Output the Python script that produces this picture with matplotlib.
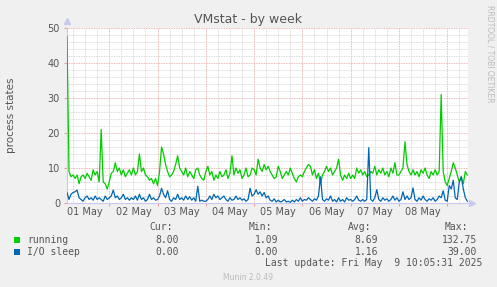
import numpy as np
import pandas as pd
import matplotlib
matplotlib.use("Agg")
import matplotlib.pyplot as plt
import matplotlib.dates as mdates
from matplotlib.patches import Rectangle
from matplotlib.ticker import MultipleLocator, FuncFormatter, NullFormatter

# hourly samples, 2025-05-01 03:00 .. 2025-05-09 10:00
times = pd.date_range("2025-05-01 03:00", "2025-05-09 10:00", freq="h")

running = [
    # May 1 (03..23)
    47.5, 9, 7.5, 8, 7, 8, 5.5, 7.5, 8, 7, 8.5, 7.5, 6.5, 9.5, 8, 9, 6, 21, 6, 5.5, 4,
    # May 2
    6, 8.5, 9, 11.5, 9, 10, 8, 9.5, 7.5, 8.5, 9.5, 8, 10, 8, 9, 14, 9, 10, 8, 7.5, 6.5, 7, 5.5, 7,
    # May 3
    5, 9, 16, 14, 11, 9, 7.5, 8, 9, 11, 13.5, 10, 9, 8, 10, 7.5, 9, 8, 7, 9.5, 10, 8, 7, 6.5,
    # May 4
    9, 10.5, 8, 9, 6.5, 8, 7, 9, 7.5, 8, 9.5, 7, 8.5, 13.5, 8, 10, 8.5, 9.5, 7, 8, 10, 7.5, 8, 10,
    # May 5
    9.5, 8, 12.5, 10, 9, 11, 9.5, 10.5, 9, 8, 7, 7.5, 10.5, 9, 7, 8, 9, 8, 10, 8.5, 7, 6, 7.5, 8,
    # May 6
    7.5, 9, 10, 11, 10.5, 8, 9.5, 7, 8.5, 5.5, 8, 9, 10.5, 9, 10, 8, 9, 10, 12.5, 8, 6.5, 8, 7, 8.5,
    # May 7
    7, 8, 7, 10, 8.5, 9.5, 8, 9, 7.5, 8, 9, 8.5, 10.5, 8, 9.5, 8.5, 10, 8, 9, 7.5, 10, 8.5, 11.5, 8,
    # May 8
    8, 9, 10, 17.5, 11, 9, 8, 9.5, 8, 9, 7.5, 9.5, 8.5, 10, 8, 7, 9, 8, 9.5, 8, 9, 31, 9, 6,
    # May 9 (00..10)
    5, 7, 9, 11.5, 10, 8, 6, 7.5, 5.5, 9, 8,
]

io_sleep = [
    # May 1 (03..23)
    3, 1, 2.5, 3, 3.2, 3.7, 1.5, 1, 0.5, 1.5, 2, 1, 1.5, 0.8, 2, 1, 1.5, 1, 0.5, 2, 1,
    # May 2
    1.5, 2, 3.7, 1.5, 2, 1, 1.5, 2.5, 1, 1.5, 0.8, 1.5, 1, 2, 0.8, 2.5, 1, 1.5, 0.5, 1, 2.5, 1, 1.5, 0.8,
    # May 3
    1, 2, 4.2, 2.5, 1.5, 3.5, 1, 0.5, 1.5, 1, 2.5, 1, 1.5, 0.8, 2, 1, 1.8, 0.8, 1.5, 0.5, 4.8, 0.5, 0.8, 0.5,
    # May 4
    0.5, 1, 2, 1, 2.5, 1.5, 2, 1, 1.5, 2, 1, 0.5, 1.5, 0.8, 1, 2, 1, 1.5, 0.8, 1.2, 0.5, 1, 4.2, 2,
    # May 5
    2.5, 3.8, 2.5, 3.2, 2, 3, 1.5, 2, 0.8, 0.5, 1.2, 0.3, 0.8, 0.3, 0.5, 1, 0.3, 0.5, 0.2, 0.8, 0.3, 1, 0.5, 1.5,
    # May 6
    0.5, 1, 0.8, 1.5, 1, 0.5, 1.2, 0.8, 2, 7.5, 1, 0.5, 1.2, 0.8, 2, 0.5, 1, 0.3, 1.5, 0.5, 1, 0.3, 1.5, 0.8,
    # May 7
    1, 0.5, 1, 2, 0.8, 0.5, 1, 0.5, 1, 15.8, 1, 0.5, 1.5, 3.8, 1, 0.5, 1.5, 0.8, 1.2, 0.5, 1, 2, 0.8, 1.5,
    # May 8
    0.5, 1, 3.2, 1, 2, 1, 1.5, 4.3, 1, 0.5, 1.5, 0.8, 2, 1, 0.5, 1.2, 0.8, 1.5, 0.5, 1, 2, 1.5, 3.5, 0.8,
    # May 9 (00..10)
    0.5, 5, 4, 6.5, 1.5, 1, 6, 7.5, 4, 1.5, 0.5,
]

legend_names = ["running", "I/O sleep"]
legend_colors = ["#00cc00", "#0066b3"]
cur_vals = ["8.00", "0.00"]
min_vals = ["1.09", "0.00"]
avg_vals = ["8.69", "1.16"]
max_vals = ["132.75", "39.00"]

W, H = 497, 287
fig = plt.figure(figsize=(W / 100, H / 100), dpi=100, facecolor="#f0f0f0")
ax = fig.add_axes([67 / W, 84 / H, 401 / W, 175 / H], facecolor="white")

ax.plot(times, running, color=legend_colors[0], lw=0.9, zorder=3)
ax.plot(times, io_sleep, color=legend_colors[1], lw=0.9, zorder=3)

ax.set_xlim(pd.Timestamp("2025-05-01 03:00"), pd.Timestamp("2025-05-09 10:20"))
ax.set_ylim(0, 50)

# y grid: minor every 2, major every 10
ax.yaxis.set_major_locator(MultipleLocator(10))
ax.yaxis.set_minor_locator(MultipleLocator(2))
# x grid: red at day boundaries, grey every 6 hours, labels at noon
ax.xaxis.set_major_locator(mdates.DayLocator())
ax.xaxis.set_major_formatter(NullFormatter())
ax.xaxis.set_minor_locator(mdates.HourLocator(byhour=[6, 12, 18]))
ax.xaxis.set_minor_formatter(FuncFormatter(
    lambda v, p: mdates.num2date(v).strftime("%d %b") if mdates.num2date(v).hour == 12 else ""))

ax.grid(which="minor", color="#d0d0d0", lw=0.6, ls=(0, (1, 1)), zorder=0)
ax.grid(which="major", color="#e8a0a0", lw=0.6, ls=(0, (1, 1)), zorder=1)

ax.tick_params(axis="x", which="major", length=2, color="#e8a0a0", pad=2)
ax.tick_params(axis="x", which="minor", length=0, labelsize=7, labelcolor="#555555", pad=3)
ax.tick_params(axis="y", which="major", length=2, color="#e8a0a0", labelsize=7,
               labelcolor="#555555", pad=3)
ax.tick_params(axis="y", which="minor", length=0)

for s in ["top", "right"]:
    ax.spines[s].set_visible(False)
for s in ["left", "bottom"]:
    ax.spines[s].set_color("#c8c8f0")
    ax.spines[s].set_linewidth(0.8)
# axis arrows
ax.plot([0], [1.04], marker="^", ms=4, color="#c8c8f0", transform=ax.transAxes, clip_on=False)
ax.plot([1.01], [0], marker=">", ms=4, color="#c8c8f0", transform=ax.transAxes, clip_on=False)

fig.text(248 / W, 1 - 19 / H, "VMstat - by week", ha="center", va="center",
         fontsize=9, color="#555555")
fig.text(11 / W, 1 - 115 / H, "process states", ha="center", va="center",
         rotation=90, fontsize=7.5, color="#555555")
fig.text(490 / W, 1 - 5 / H, "RRDTOOL / TOBI OETIKER", ha="center", va="top",
         rotation=270, fontsize=5.5, color="#bbbbbb")

# legend block
mono = dict(family="DejaVu Sans Mono", fontsize=7, color="#555555", va="center")
fig.text(173 / W, 1 - 227 / H, "Cur:", ha="right", **mono)
fig.text(272 / W, 1 - 227 / H, "Min:", ha="right", **mono)
fig.text(371 / W, 1 - 227 / H, "Avg:", ha="right", **mono)
fig.text(468 / W, 1 - 227 / H, "Max:", ha="right", **mono)
rows_y = [240, 252]
for i, name in enumerate(legend_names):
    y = 1 - rows_y[i] / H
    fig.patches.append(Rectangle((14 / W, y - 3 / H), 6 / W, 6 / H, transform=fig.transFigure,
                                 facecolor=legend_colors[i], edgecolor="none"))
    fig.text(27 / W, y, name, ha="left", **mono)
    fig.text(179 / W, y, cur_vals[i], ha="right", **mono)
    fig.text(278 / W, y, min_vals[i], ha="right", **mono)
    fig.text(378 / W, y, avg_vals[i], ha="right", **mono)
    fig.text(477 / W, y, max_vals[i], ha="right", **mono)
fig.text(482 / W, 1 - 263 / H, "Last update: Fri May  9 10:05:31 2025", ha="right", **mono)
fig.text(248 / W, 1 - 277 / H, "Munin 2.0.49", ha="center", va="center",
         fontsize=5.5, color="#bbbbbb")

fig.savefig("out.png", dpi=100, facecolor=fig.get_facecolor())
